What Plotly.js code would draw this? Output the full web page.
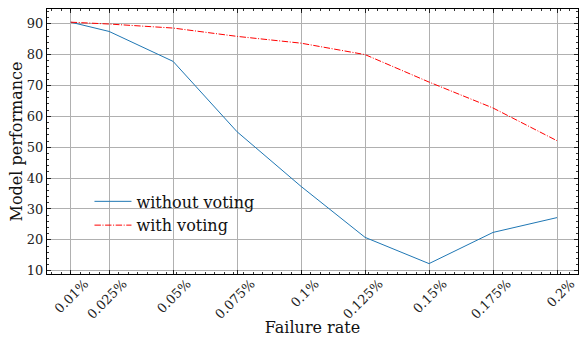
<!DOCTYPE html>
<html>
<head>
<meta charset="utf-8">
<script src="https://cdn.plot.ly/plotly-3.0.1.min.js"></script>
<style>html,body{margin:0;padding:0;background:#fff;}</style>
</head>
<body>
<div id="chart" style="width:579px;height:337px;"></div>
<script>
const failureRates = [0.01, 0.025, 0.05, 0.075, 0.1, 0.125, 0.15, 0.175, 0.2];
const tickLabels = ["0.01%", "0.025%", "0.05%", "0.075%", "0.1%", "0.125%", "0.15%", "0.175%", "0.2%"];
const withoutVoting = [90.5, 87.5, 77.8, 55.0, 37.3, 20.8, 12.3, 22.4, 27.2];
const withVoting = [90.5, 89.9, 88.6, 85.9, 83.7, 80.0, 71.1, 62.7, 52.1];

const serif = "DejaVu Serif, serif";
const traces = [
  {x: failureRates, y: withoutVoting, type: "scatter", mode: "lines", name: "without voting",
   line: {color: "#1f77b4", width: 1}},
  {x: failureRates, y: withVoting, type: "scatter", mode: "lines", name: "with voting",
   line: {color: "#ff0000", width: 1, dash: "6.4px,1.6px,1px,1.6px"}}
];
const axisCommon = {
  showline: true, linecolor: "#000", linewidth: 1, mirror: "allticks",
  ticks: "inside", ticklen: 4, tickwidth: 0.8, tickcolor: "#000",
  showgrid: true, gridcolor: "#b0b0b0", gridwidth: 1, zeroline: false,
  tickfont: {family: serif, size: 13, color: "#222"}
};
const layout = {
  width: 579, height: 337,
  margin: {l: 47, r: 1, t: 9, b: 63},
  paper_bgcolor: "#fff", plot_bgcolor: "#fff",
  showlegend: true,
  legend: {x: 0.08, y: 0.338, xanchor: "left", yanchor: "top", bgcolor: "rgba(0,0,0,0)",
           itemwidth: 37,
           font: {family: serif, size: 16, color: "#111"}, tracegroupgap: 0},
  xaxis: Object.assign({}, axisCommon, {
    range: [0.00073, 0.2082], tickmode: "array", tickvals: failureRates, ticktext: tickLabels,
    tickangle: -45, ticklabelshift: 14, ticklabelstandoff: -4, ticklabeloverflow: "allow",
    minor: {tickmode: "linear", tick0: 0.01, dtick: 0.00375, ticks: "inside", ticklen: 2, tickcolor: "#000", showgrid: false},
    title: {text: "Failure rate", font: {family: serif, size: 16, color: "#111"}, standoff: 6}
  }),
  yaxis: Object.assign({}, axisCommon, {
    range: [8.93, 94.77], tickmode: "linear", tick0: 10, dtick: 10,
    minor: {tickmode: "linear", tick0: 10, dtick: 2, ticks: "inside", ticklen: 2, tickcolor: "#000", showgrid: false},
    title: {text: "Model performance", font: {family: serif, size: 16, color: "#111"}, standoff: 0}
  })
};
Plotly.newPlot("chart", traces, layout, {displayModeBar: false, staticPlot: true});
</script>
</body>
</html>
